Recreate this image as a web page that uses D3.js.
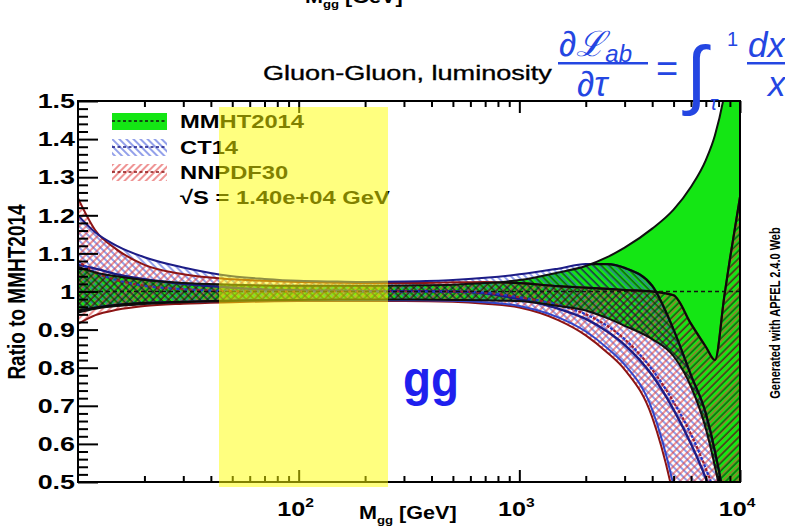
<!DOCTYPE html>
<html>
<head>
<meta charset="utf-8">
<script src="https://cdnjs.cloudflare.com/ajax/libs/d3/7.8.5/d3.min.js"></script>
<style>
body { margin: 0; background: #fff; }
svg { display: block; }
text { font-family: "Liberation Sans", Arial, Helvetica, sans-serif; }
</style>
</head>
<body>
<svg id="chart" width="785" height="527"></svg>
<script>
// mass grid and ratio to MMHT2014
const massGeV  = [10, 12, 15, 20, 30, 50, 70, 100, 150, 200, 300, 500, 700, 1000, 1500, 2000, 2500, 3000, 4000, 5000, 6000, 7000, 7700, 8500, 9000, 10000]

const mmhtUp   = [1.065, 1.05, 1.04, 1.03, 1.022, 1.018, 1.016, 1.015, 1.015, 1.015, 1.016, 1.018, 1.022, 1.03, 1.05, 1.067, 1.09, 1.115, 1.165, 1.215, 1.275, 1.345, 1.41, 1.52, 1.62, 1.9]
const mmhtLo   = [0.945, 0.955, 0.962, 0.967, 0.972, 0.975, 0.977, 0.978, 0.979, 0.979, 0.979, 0.978, 0.977, 0.975, 0.962, 0.95, 0.93, 0.91, 0.875, 0.83, 0.75, 0.64, 0.54, 0.41, 0.3, 0.1]
const mmhtMid  = [1, 1, 1, 1, 1, 1, 1, 1, 1, 1, 1, 1, 1, 1, 1, 1, 1, 1, 1, 1, 1, 1, 1, 1, 1, 1]

const ct14Up   = [1.2, 1.155, 1.12, 1.09, 1.063, 1.04, 1.033, 1.028, 1.026, 1.025, 1.026, 1.03, 1.036, 1.045, 1.06, 1.072, 1.072, 1.062, 1.015, 0.9, 0.78, 0.68, 0.58, 0.44, 0.3, 0.1]
const ct14Lo   = [0.95, 0.958, 0.965, 0.97, 0.973, 0.976, 0.977, 0.977, 0.977, 0.977, 0.977, 0.976, 0.972, 0.962, 0.932, 0.895, 0.852, 0.808, 0.69, 0.49, 0.25, 0.0, -0.1, -0.2, -0.3, -0.5]
const ct14Mid  = [1.07, 1.06, 1.045, 1.032, 1.02, 1.01, 1.005, 1.003, 1.002, 1.001, 1.001, 1.0, 0.995, 0.98, 0.955, 0.928, 0.895, 0.86, 0.78, 0.69, 0.6, 0.51, 0.445, 0.36, 0.3, 0.15]

const nnpdfUp  = [1.245, 1.16, 1.11, 1.07, 1.045, 1.032, 1.028, 1.025, 1.023, 1.022, 1.022, 1.024, 1.025, 1.022, 1.014, 1.01, 1.007, 1.004, 1.0, 0.99, 0.915, 0.855, 0.82, 0.99, 1.085, 1.248]
const nnpdfLo  = [0.915, 0.938, 0.952, 0.962, 0.968, 0.972, 0.974, 0.975, 0.975, 0.975, 0.975, 0.973, 0.968, 0.958, 0.925, 0.885, 0.84, 0.795, 0.67, 0.46, 0.2, -0.05, -0.15, -0.25, -0.3, -0.5]
const nnpdfMid = [1.08, 1.05, 1.03, 1.015, 1.006, 1.001, 1.0, 1.0, 1.0, 1.0, 1.0, 1.0, 0.997, 0.985, 0.965, 0.94, 0.91, 0.875, 0.795, 0.71, 0.625, 0.535, 0.47, 0.38, 0.3, 0.15]

const yMajor = [0.5, 0.6, 0.7, 0.8, 0.9, 1.0, 1.1, 1.2, 1.3, 1.4, 1.5]
const xMajor = [100, 1000, 10000]
const xMajorLabels = [['10', '2'], ['10', '3'], ['10', '4']]
const legendNames = ['MMHT2014', 'CT14', 'NNPDF30']

const GREEN = '#14e614'
const NAVY = '#1c1c86'
const DARKRED = '#8c1414'

const svg = d3.select('#chart')
const defs = svg.append('defs')

const x = d3.scaleLog().domain([10, 1e4]).range([78, 740])
const y = d3.scaleLinear().domain([0.5, 1.5]).range([482, 101])

// hatch patterns
function hatch(id, color, angle, w, gap) {
  const p = defs.append('pattern').attr('id', id)
    .attr('patternUnits', 'userSpaceOnUse')
    .attr('width', gap).attr('height', gap)
    .attr('patternTransform', `rotate(${angle})`)
  p.append('line').attr('x1', 1).attr('y1', 0).attr('x2', 1).attr('y2', gap)
    .attr('stroke', color).attr('stroke-width', w)
}
hatch('hCT', '#3a52d8', -45, 1.1, 5)
hatch('hNN', '#e23c3c', 45, 1.1, 5)
hatch('hCTk', '#0b1a0b', -45, 1.0, 5.5)
hatch('hNNk', '#0b1a0b', 45, 1.0, 5.5)

defs.append('clipPath').attr('id', 'plotClip')
  .append('rect').attr('x', 78).attr('y', 101).attr('width', 662).attr('height', 381)

const band = (lo, hi) => d3.area()
  .x(d => x(d))
  .y0((d, i) => y(lo[i]))
  .y1((d, i) => y(hi[i]))
  .curve(d3.curveMonotoneX)

const line = vals => d3.line()
  .x(d => x(d))
  .y((d, i) => y(vals[i]))
  .curve(d3.curveMonotoneX)

defs.append('clipPath').attr('id', 'mmhtClip')
  .append('path').datum(massGeV).attr('d', band(mmhtLo, mmhtUp))

const plot = svg.append('g').attr('clip-path', 'url(#plotClip)')

plot.append('path').datum(massGeV).attr('d', band(mmhtLo, mmhtUp)).attr('fill', GREEN)
plot.append('path').datum(massGeV).attr('d', band(ct14Lo, ct14Up)).attr('fill', 'url(#hCT)')
plot.append('path').datum(massGeV).attr('d', band(nnpdfLo, nnpdfUp)).attr('fill', 'url(#hNN)')

// hatches look black where they sit on the green band
const onGreen = plot.append('g').attr('clip-path', 'url(#mmhtClip)')
onGreen.append('path').datum(massGeV).attr('d', band(ct14Lo, ct14Up)).attr('fill', 'url(#hCTk)')
onGreen.append('path').datum(massGeV).attr('d', band(nnpdfLo, nnpdfUp)).attr('fill', 'url(#hNNk)')

// central values
plot.append('path').datum(massGeV).attr('d', line(ct14Mid)).attr('fill', 'none')
  .attr('stroke', NAVY).attr('stroke-width', 2.4)
plot.append('path').datum(massGeV).attr('d', line(nnpdfMid)).attr('fill', 'none')
  .attr('stroke', '#2336c8').attr('stroke-width', 2.2).attr('stroke-dasharray', '3,5')
plot.append('path').datum(massGeV).attr('d', line(nnpdfMid)).attr('fill', 'none')
  .attr('stroke', '#a01c2c').attr('stroke-width', 2.2).attr('stroke-dasharray', '3,5')
  .attr('stroke-dashoffset', 4)
plot.append('path').datum(massGeV).attr('d', line(mmhtMid)).attr('fill', 'none')
  .attr('stroke', '#111').attr('stroke-width', 1.3).attr('stroke-dasharray', '4,3')

// band edges
const edges = [
  [nnpdfLo, DARKRED], [nnpdfUp, DARKRED],
  [ct14Lo, '#3246c8'], [ct14Up, NAVY],
  [mmhtLo, '#101010'], [mmhtUp, '#101010']
]
edges.forEach(([vals, c]) => {
  plot.append('path').datum(massGeV).attr('d', line(vals)).attr('fill', 'none')
    .attr('stroke', c).attr('stroke-width', 2)
})
const edgesOnGreen = plot.append('g').attr('clip-path', 'url(#mmhtClip)')
edges.slice(0, 4).forEach(([vals]) => {
  edgesOnGreen.append('path').datum(massGeV).attr('d', line(vals)).attr('fill', 'none')
    .attr('stroke', '#0a0a0a').attr('stroke-width', 2.2)
})

// frame and axes
svg.append('rect').attr('x', 78).attr('y', 101).attr('width', 662).attr('height', 381)
  .attr('fill', 'none').attr('stroke', '#000').attr('stroke-width', 2)

const yMinor = d3.range(0.52, 1.5, 0.02).filter(v => Math.abs(v * 10 - Math.round(v * 10)) > 0.05)
svg.append('g').attr('transform', 'translate(78,0)')
  .call(d3.axisLeft(y).tickValues(yMinor).tickSize(-10).tickFormat(''))
svg.append('g').attr('class', 'yax').attr('transform', 'translate(78,0)')
  .call(d3.axisLeft(y).tickValues(yMajor).tickSize(-20).tickPadding(3)
    .tickFormat(d => d === 1 ? '1' : d3.format('.1f')(d)))
svg.selectAll('.yax text')
  .attr('font-family', '"Liberation Sans", Arial, sans-serif')
  .attr('font-size', 21).attr('font-weight', 'bold').attr('fill', '#000')
  .attr('x', -3 / 1.28).attr('transform', 'scale(1.28,1)')
svg.selectAll('.domain').remove()
svg.selectAll('.tick line').attr('stroke', '#000').attr('stroke-width', 2)

const xMinor = []
;[10, 100, 1000].forEach(dec => { for (let k = 2; k <= 9; k++) xMinor.push(dec * k) })
svg.append('g').attr('transform', 'translate(0,482)')
  .call(d3.axisBottom(x).tickValues(xMinor).tickSize(-6).tickFormat(''))
svg.append('g').attr('transform', 'translate(0,482)')
  .call(d3.axisBottom(x).tickValues(xMajor).tickSize(-12).tickFormat(''))
svg.append('g').attr('transform', 'translate(0,101)')
  .call(d3.axisTop(x).tickValues(xMinor).tickSize(-6).tickFormat(''))
svg.append('g').attr('transform', 'translate(0,101)')
  .call(d3.axisTop(x).tickValues(xMajor).tickSize(-12).tickFormat(''))
svg.selectAll('.domain').remove()
svg.selectAll('.tick line').attr('stroke', '#000').attr('stroke-width', 2)

// helper for horizontally widened text
function label(px, py, anchor, size, weight, k) {
  return svg.append('text')
    .attr('transform', `translate(${px},${py}) scale(${k},1)`)
    .attr('text-anchor', anchor).attr('font-size', size).attr('font-weight', weight)
    .attr('fill', '#000')
}

xMajor.forEach((v, i) => {
  const t = label(x(v) - 3, 516, 'middle', 21, 'bold', 1.2)
  t.append('tspan').text(xMajorLabels[i][0])
  t.append('tspan').attr('font-size', 13).attr('dy', -9).text(xMajorLabels[i][1])
})

const xt = label(359, 519, 'start', 18, 'bold', 1.2)
xt.append('tspan').text('M')
xt.append('tspan').attr('font-size', 11).attr('dy', 5).text('gg')
xt.append('tspan').attr('dy', -5).text(' [GeV]')

// the same axis title, cut off at the top of the picture
const xt2 = label(305, 3, 'start', 18, 'bold', 1.2)
xt2.append('tspan').text('M')
xt2.append('tspan').attr('font-size', 11).attr('dy', 5).text('gg')
xt2.append('tspan').attr('dy', -5).text(' [GeV]')

svg.append('text').attr('transform', 'translate(25,292) rotate(-90) scale(1,1.25)')
  .attr('text-anchor', 'middle').attr('font-size', 19).attr('font-weight', 'bold')
  .text('Ratio to MMHT2014')

svg.append('text').attr('transform', 'translate(780,313) rotate(-90) scale(1,1.25)')
  .attr('text-anchor', 'middle').attr('font-size', 11).attr('font-weight', 'bold')
  .text('Generated with APFEL 2.4.0 Web')

label(263, 80, 'start', 21, 'normal', 1.29)
  .attr('stroke', '#000').attr('stroke-width', 0.35)
  .text('Gluon-Gluon, luminosity')

// formula in blue
const fBlue = '#2446e2'
const fz = svg.append('g').attr('fill', fBlue)
  .attr('font-family', '"Liberation Serif", "DejaVu Serif", serif').attr('font-style', 'italic')
const num = fz.append('text').attr('x', 559).attr('y', 56).attr('font-size', 35)
num.append('tspan').text('\u2202\u2112')
num.append('tspan').attr('font-size', 24).attr('dy', 6).text('ab')
fz.append('rect').attr('x', 558).attr('y', 62).attr('width', 90).attr('height', 2.5)
fz.append('text').attr('x', 577).attr('y', 96).attr('font-size', 35).text('\u2202\u03c4')
fz.append('text').attr('x', 656).attr('y', 82).attr('font-size', 38).attr('font-style', 'normal').text('=')
fz.append('text').attr('x', 686).attr('y', 100).attr('font-size', 76).attr('font-style', 'normal')
  .attr('font-family', '"DejaVu Serif", serif').text('\u222b')
fz.append('text').attr('x', 727).attr('y', 46).attr('font-size', 20).attr('font-style', 'normal').text('1')
fz.append('text').attr('x', 710).attr('y', 110).attr('font-size', 20).text('\u03c4')
fz.append('text').attr('x', 748).attr('y', 57).attr('font-size', 35).text('dx')
fz.append('rect').attr('x', 747).attr('y', 62).attr('width', 45).attr('height', 2.5)
fz.append('text').attr('x', 768).attr('y', 96).attr('font-size', 35).text('x')

// legend
const legY = [121, 147, 172]
const legFill = [GREEN, 'url(#hCT)', 'url(#hNN)']
const legDash = ['#111', NAVY, DARKRED]
legendNames.forEach((name, i) => {
  svg.append('rect').attr('x', 112).attr('y', legY[i] - 8).attr('width', 55).attr('height', 17)
    .attr('fill', legFill[i])
  svg.append('line').attr('x1', 112).attr('x2', 167).attr('y1', legY[i]).attr('y2', legY[i])
    .attr('stroke', legDash[i]).attr('stroke-width', 1.6).attr('stroke-dasharray', '3,2.5')
  label(180, legY[i] + 7, 'start', 19, 'bold', 1.25).text(name)
})
label(180, 204, 'start', 19, 'bold', 1.25).text('\u221aS = 1.40e+04 GeV')

// yellow highlight and gg tag drawn on top
svg.append('rect').attr('x', 219).attr('y', 107).attr('width', 169).attr('height', 380)
  .attr('fill', '#ffff00').attr('fill-opacity', 0.5)
svg.append('text').attr('x', 403).attr('y', 396).attr('font-size', 50).attr('font-weight', 'bold')
  .attr('fill', '#1f1fee').attr('textLength', 56).attr('lengthAdjust', 'spacingAndGlyphs').text('gg')
</script>
</body>
</html>
